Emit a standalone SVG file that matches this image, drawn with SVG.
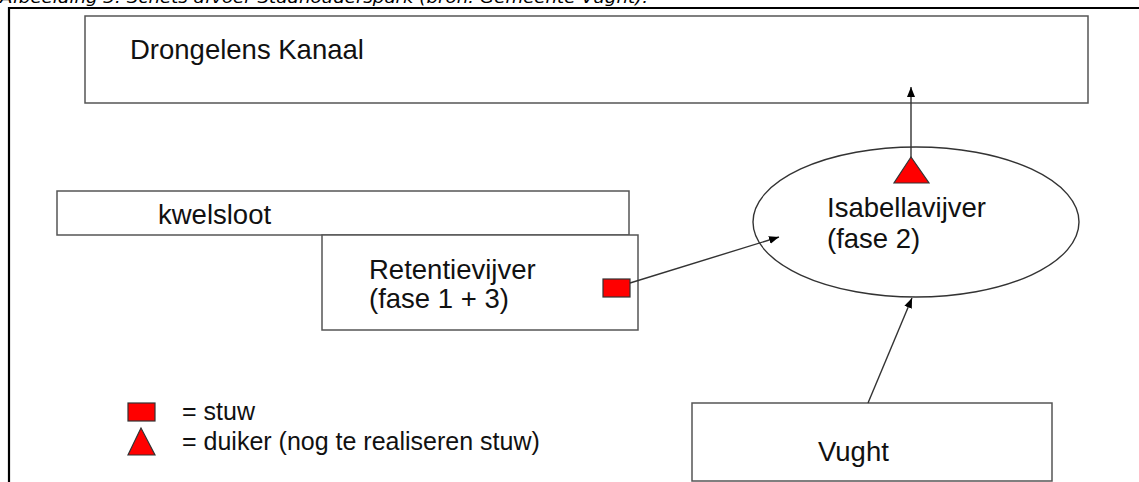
<svg xmlns="http://www.w3.org/2000/svg" width="1139" height="482" viewBox="0 0 1139 482">
  <style>
    .box { fill: #ffffff; stroke: #555555; stroke-width: 1.5; }
    .label { font-family: "Liberation Sans", Arial, sans-serif; font-size: 27.5px; fill: #111111; }
    .legend { font-family: "Liberation Sans", Arial, sans-serif; font-size: 25px; fill: #111111; }
    .caption { font-family: "DejaVu Sans", Verdana, sans-serif; font-style: italic; font-size: 15px; fill: #000000; }
    .flow { fill: none; stroke: #333333; stroke-width: 1.4; marker-end: url(#head); }
    .stuw { fill: #ff0000; stroke: #333333; stroke-width: 1.2; }
  </style>
  <defs>
    <marker id="head" viewBox="0 0 10 10" refX="10" refY="5" markerWidth="10" markerHeight="10" markerUnits="userSpaceOnUse" orient="auto">
      <path d="M0,1 L10,5 L0,9 Z" fill="#000000"/>
    </marker>
  </defs>

  <rect width="1139" height="482" fill="#ffffff"/>

  <!-- caption above the frame -->
  <text class="caption" x="0" y="3" textLength="648" lengthAdjust="spacingAndGlyphs">Afbeelding 3: Schets afvoer Stadhouderspark (bron: Gemeente Vught).</text>

  <!-- frame -->
  <path d="M9,482 L9,8 L1139,8" fill="none" stroke="#000000" stroke-width="2.2"/>

  <g id="drongelens-kanaal">
    <rect class="box" x="85" y="16" width="1003" height="87"/>
    <text class="label" x="130" y="59">Drongelens Kanaal</text>
  </g>

  <g id="kwelsloot">
    <rect class="box" x="57" y="191" width="572" height="44"/>
    <text class="label" x="158" y="224">kwelsloot</text>
  </g>

  <g id="retentievijver">
    <rect class="box" x="322" y="235" width="316" height="95"/>
    <text class="label" x="369" y="279">Retentievijver</text>
    <text class="label" x="369" y="308">(fase 1 + 3)</text>
    <rect class="stuw" x="603" y="279" width="27" height="18"/>
  </g>

  <g id="isabellavijver">
    <ellipse cx="916" cy="222" rx="163" ry="75" fill="#ffffff" stroke="#333333" stroke-width="1.4"/>
    <text class="label" x="827" y="217">Isabellavijver</text>
    <text class="label" x="827" y="248">(fase 2)</text>
  </g>

  <g id="vught">
    <rect class="box" x="692" y="403" width="360" height="78"/>
    <text class="label" x="818" y="461">Vught</text>
  </g>

  <g id="connectors">
    <line class="flow" x1="911" y1="158" x2="911" y2="87"/>
    <line class="flow" x1="630" y1="283" x2="779" y2="237"/>
    <line class="flow" x1="868" y1="403" x2="912" y2="298"/>
  </g>

  <!-- duiker on the outlet of the Isabellavijver -->
  <g id="duiker">
    <polygon class="stuw" points="911,157 894,183 929,183"/>
  </g>

  <g id="legend">
    <rect class="stuw" x="128" y="403" width="27" height="18"/>
    <text class="legend" x="182" y="420">= stuw</text>
    <polygon class="stuw" points="141,428 128,455 155,455"/>
    <text class="legend" x="182" y="450">= duiker (nog te realiseren stuw)</text>
  </g>
</svg>
